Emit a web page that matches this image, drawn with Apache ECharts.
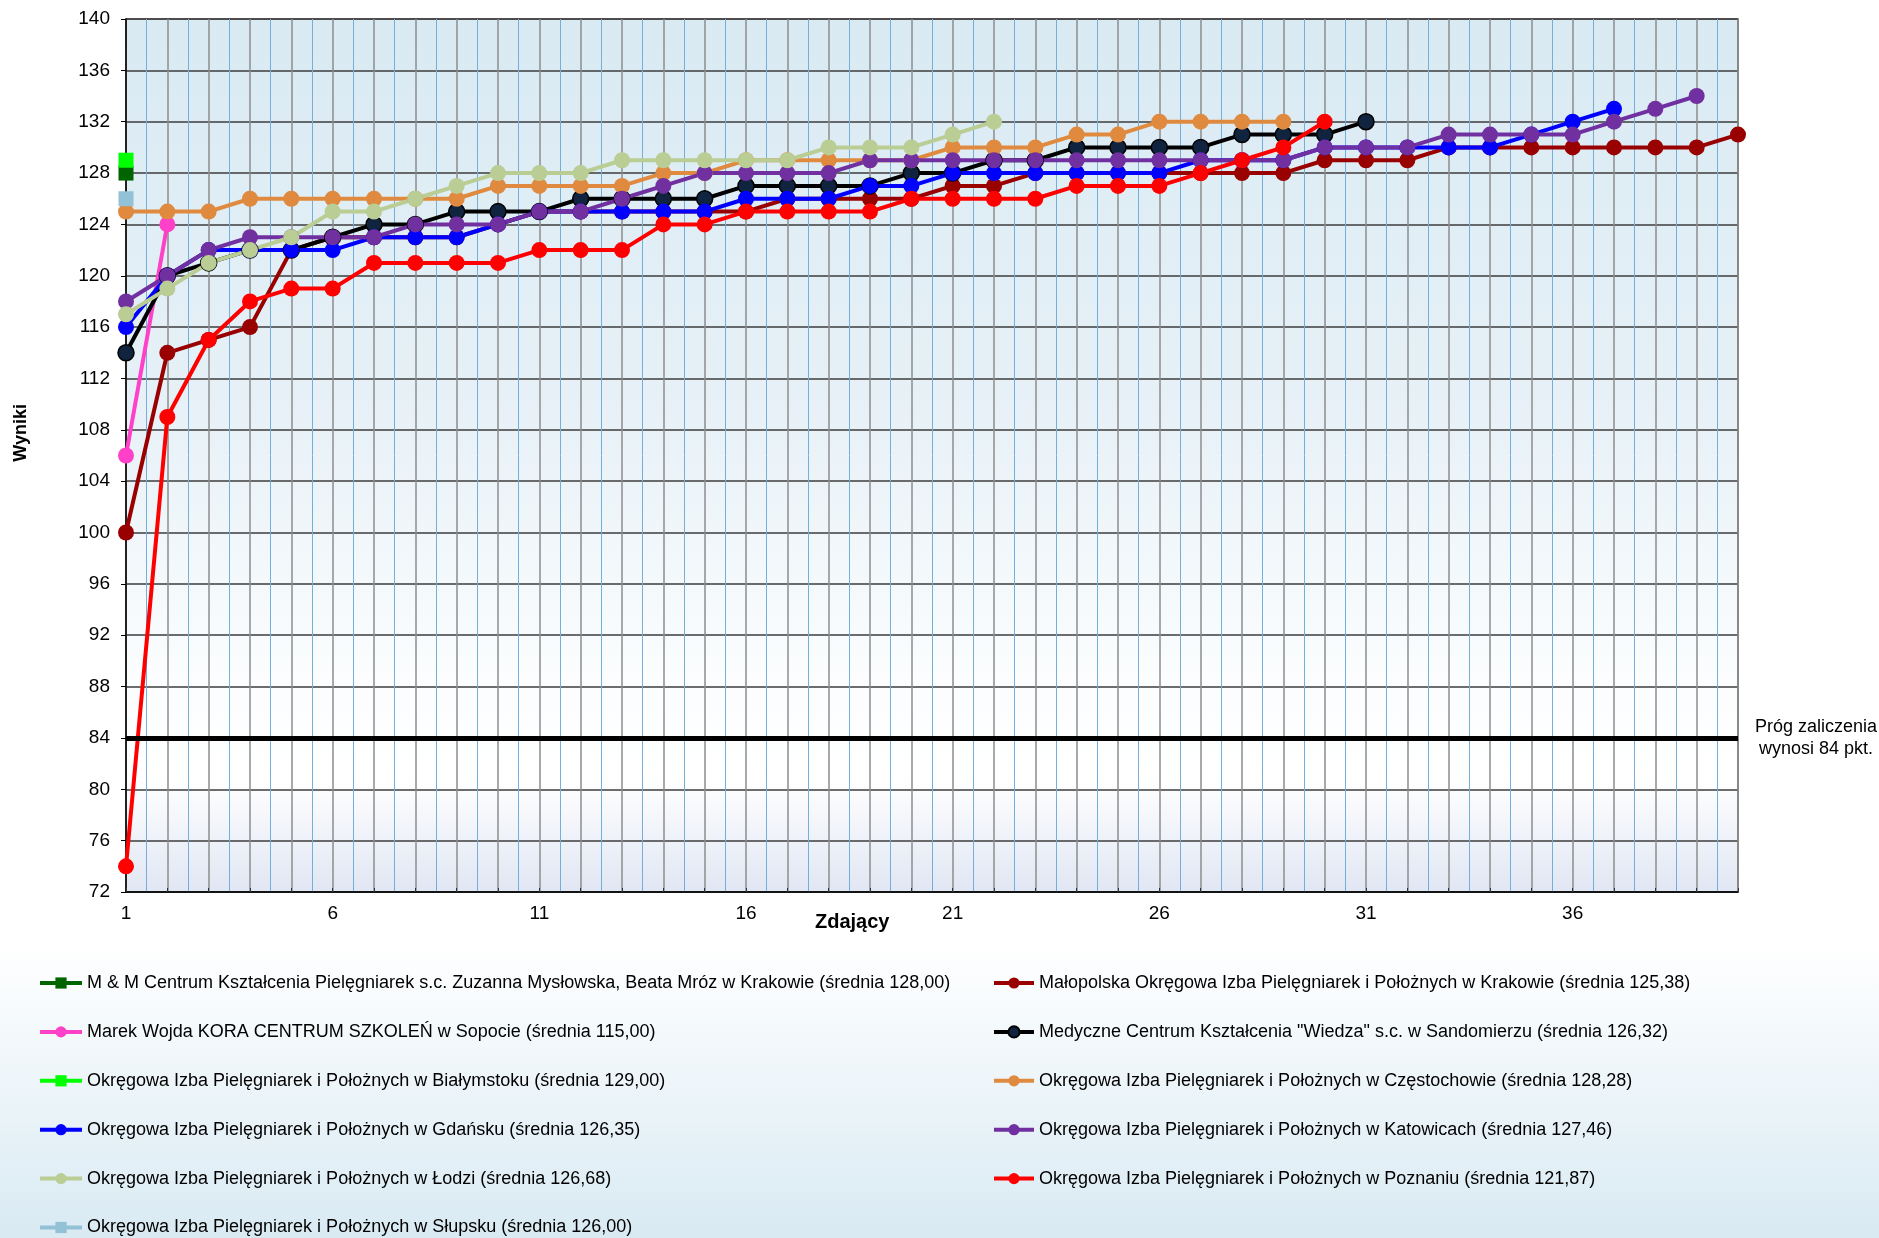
<!DOCTYPE html>
<html>
<head>
<meta charset="utf-8">
<title>Wyniki</title>
<script src="https://cdn.jsdelivr.net/npm/echarts@6/dist/echarts.min.js"></script>
<style>
  html, body { margin: 0; padding: 0; background: #fff; }
  #container { width: 1879px; height: 1238px; }
</style>
</head>
<body>
<div id="container"></div>
<script>
// numer zdającego (oś X)
const zdajacy = ['1', '2', '3', '4', '5', '6', '7', '8', '9', '10',
  '11', '12', '13', '14', '15', '16', '17', '18', '19', '20',
  '21', '22', '23', '24', '25', '26', '27', '28', '29', '30',
  '31', '32', '33', '34', '35', '36', '37', '38', '39', '40'];
const xTickLabels = ['1', '6', '11', '16', '21', '26', '31', '36'];

// wyniki poszczególnych ośrodków (posortowane rosnąco)
const mmKrakow = [128];
const malopolska = [100, 114, 115, 116, 122, 123, 123, 123, 123, 124,
  125, 125, 125, 125, 125, 125, 126, 126, 126, 126,
  127, 127, 128, 128, 128, 128, 128, 128, 128, 129,
  129, 129, 130, 130, 130, 130, 130, 130, 130, 131];
const koraSopot = [106, 124];
const wiedzaSandomierz = [114, 120, 121, 122, 122, 123, 124, 124, 125, 125,
  125, 126, 126, 126, 126, 127, 127, 127, 127, 128,
  128, 129, 129, 130, 130, 130, 130, 131, 131, 131, 132];
const bialystok = [129];
const czestochowa = [125, 125, 125, 126, 126, 126, 126, 126, 126, 127,
  127, 127, 127, 128, 128, 129, 129, 129, 129, 129,
  130, 130, 130, 131, 131, 132, 132, 132, 132];
const gdansk = [116, 120, 122, 122, 122, 122, 123, 123, 123, 124,
  125, 125, 125, 125, 125, 126, 126, 126, 127, 127,
  128, 128, 128, 128, 128, 128, 129, 129, 129, 130,
  130, 130, 130, 130, 131, 132, 133];
const katowice = [118, 120, 122, 123, 123, 123, 123, 124, 124, 124,
  125, 125, 126, 127, 128, 128, 128, 128, 129, 129,
  129, 129, 129, 129, 129, 129, 129, 129, 129, 130,
  130, 130, 131, 131, 131, 131, 132, 133, 134];
const lodz = [117, 119, 121, 122, 123, 125, 125, 126, 127, 128,
  128, 128, 129, 129, 129, 129, 129, 130, 130, 130, 131, 132];
const poznan = [74, 109, 115, 118, 119, 119, 121, 121, 121, 121,
  122, 122, 122, 124, 124, 125, 125, 125, 125, 126,
  126, 126, 126, 127, 127, 127, 128, 129, 130, 132];
const slupsk = [126];

const progZaliczenia = 84;

const FONT = "'Liberation Sans', Arial, sans-serif";

const serie = [
  { name: 'M & M Centrum Kształcenia Pielęgniarek s.c. Zuzanna Mysłowska, Beata Mróz w Krakowie (średnia 128,00)', data: mmKrakow, color: '#006400', symbol: 'rect' },
  { name: 'Małopolska Okręgowa Izba Pielęgniarek i Położnych w Krakowie (średnia 125,38)', data: malopolska, color: '#990000' },
  { name: 'Marek Wojda KORA CENTRUM SZKOLEŃ w Sopocie (średnia 115,00)', data: koraSopot, color: '#ff40c8' },
  { name: 'Medyczne Centrum Kształcenia "Wiedza" s.c. w Sandomierzu (średnia 126,32)', data: wiedzaSandomierz, color: '#000000', marker: '#10243f' },
  { name: 'Okręgowa Izba Pielęgniarek i Położnych w Białymstoku (średnia 129,00)', data: bialystok, color: '#00ff00', symbol: 'rect' },
  { name: 'Okręgowa Izba Pielęgniarek i Położnych w Częstochowie (średnia 128,28)', data: czestochowa, color: '#df8a3f' },
  { name: 'Okręgowa Izba Pielęgniarek i Położnych w Gdańsku (średnia 126,35)', data: gdansk, color: '#0000ff' },
  { name: 'Okręgowa Izba Pielęgniarek i Położnych w Katowicach (średnia 127,46)', data: katowice, color: '#7030a0' },
  { name: 'Okręgowa Izba Pielęgniarek i Położnych w Łodzi (średnia 126,68)', data: lodz, color: '#b9cd94' },
  { name: 'Okręgowa Izba Pielęgniarek i Położnych w Poznaniu (średnia 121,87)', data: poznan, color: '#ff0000' },
  { name: 'Okręgowa Izba Pielęgniarek i Położnych w Słupsku (średnia 126,00)', data: slupsk, color: '#93c1d5', symbol: 'rect' }
];

const chart = echarts.init(document.getElementById('container'), null, { renderer: 'canvas' });

const seriesList = [{
  name: 'Próg',
  type: 'line',
  data: [],
  markLine: {
    silent: true,
    animation: false,
    symbol: ['none', 'none'],
    lineStyle: { color: '#000', width: 5, type: 'solid' },
    label: {
      position: 'end',
      formatter: 'Próg zaliczenia\nwynosi 84 pkt.',
      color: '#000',
      fontFamily: FONT,
      fontSize: 18,
      lineHeight: 22,
      align: 'center',
      distance: 78
    },
    data: [{ yAxis: progZaliczenia }]
  }
}];

serie.forEach(function (s) {
  seriesList.push({
    name: s.name,
    type: 'line',
    data: s.data.map(function (v, i) { return [Number(zdajacy[i]), v]; }),
    symbol: s.symbol || 'circle',
    symbolSize: s.symbol ? 15 : 16,
    showSymbol: true,
    lineStyle: { color: s.color, width: 4 },
    itemStyle: s.marker
      ? { color: s.marker, borderColor: '#000', borderWidth: 1.5 }
      : { color: s.color, borderWidth: 0 },
    emphasis: { disabled: true },
    animation: false
  });
});

const legendBase = {
  orient: 'vertical',
  top: 973,
  padding: 0,
  itemHeight: 14,
  itemGap: 28.9,
  selectedMode: false,
  lineStyle: { width: 4 },
  textStyle: { color: '#000', fontFamily: FONT, fontSize: 18, lineHeight: 20 }
};

const option = {
  backgroundColor: '#ffffff',
  animation: false,
  grid: {
    left: 126, right: 141, top: 19, bottom: 346,
    show: true,
    borderColor: '#555',
    borderWidth: 1.5,
    backgroundColor: new echarts.graphic.LinearGradient(0, 0, 0, 1, [
      { offset: 0, color: '#d9eaf3' },
      { offset: 0.45, color: '#e7f1f7' },
      { offset: 0.75, color: '#fbfdfe' },
      { offset: 0.87, color: '#ffffff' },
      { offset: 1, color: '#e0e6f3' }
    ])
  },
  graphic: [
    {
      type: 'rect', z: -10, silent: true,
      shape: { x: 0, y: 945, width: 1879, height: 293 },
      style: {
        fill: new echarts.graphic.LinearGradient(0, 0, 0, 1, [
          { offset: 0, color: '#ffffff' },
          { offset: 1, color: '#d9eaf3' }
        ])
      }
    },
    {
      type: 'text', left: 12, top: 404, rotation: Math.PI / 2,
      style: { text: 'Wyniki', font: 'bold 18px ' + FONT, fill: '#000' }
    },
    {
      type: 'text', left: 815, top: 912,
      style: { text: 'Zdający', font: 'bold 20px ' + FONT, fill: '#000' }
    }
  ],
  legend: [
    Object.assign({}, legendBase, {
      left: 38, itemWidth: 42,
      data: serie.filter(function (s, i) { return i % 2 === 0; }).map(function (s) { return s.name; })
    }),
    Object.assign({}, legendBase, {
      left: 992, itemWidth: 40,
      data: serie.filter(function (s, i) { return i % 2 === 1; }).map(function (s) { return s.name; })
    })
  ],
  xAxis: {
    type: 'value',
    min: 1,
    max: 40,
    interval: 1,
    axisLine: { show: true, onZero: false, lineStyle: { color: '#000', width: 1.5 } },
    axisTick: { show: true, inside: true, length: 4, lineStyle: { color: '#333' } },
    axisLabel: {
      margin: 12,
      color: '#000',
      fontFamily: FONT,
      fontSize: 19,
      formatter: function (v) {
        return xTickLabels.indexOf(String(v)) >= 0 ? String(v) : '';
      }
    },
    splitLine: { show: true, lineStyle: { color: '#8c8c8c', width: 1.5 } },
    minorTick: { show: false, splitNumber: 2 },
    minorSplitLine: { show: true, lineStyle: { color: '#74aedb', width: 1 } }
  },
  yAxis: {
    type: 'value',
    min: 72,
    max: 140,
    interval: 4,
    axisLine: { show: true, lineStyle: { color: '#000', width: 1.5 } },
    axisTick: { show: true, length: 5, lineStyle: { color: '#000' } },
    axisLabel: { margin: 16, color: '#000', fontFamily: FONT, fontSize: 19 },
    splitLine: { show: true, lineStyle: { color: '#3c3c3c', width: 1.5 } }
  },
  series: seriesList
};

chart.setOption(option);
window.addEventListener('resize', chart.resize);
</script>
</body>
</html>
